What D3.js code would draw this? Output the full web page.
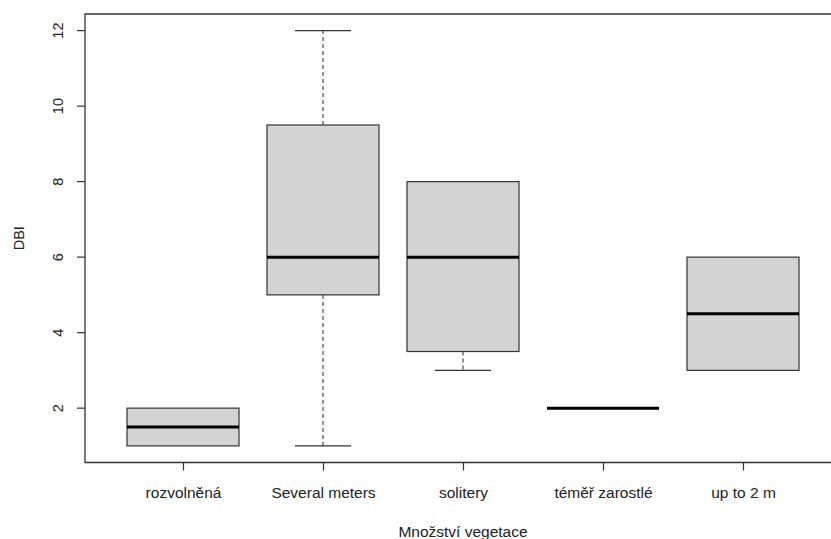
<!DOCTYPE html>
<html>
<head>
<meta charset="utf-8">
<script src="https://cdn.jsdelivr.net/npm/d3@7"></script>
<style>
  body { margin: 0; background: #fff; overflow: hidden; }
  svg { display: block; overflow: hidden; }
  text { font-family: "Liberation Sans", Arial, sans-serif; fill: #222; }
</style>
</head>
<body>
<div id="chart"></div>
<script>
// categories and five-number summaries
let categories = ['rozvolněná', 'Several meters', 'solitery', 'téměř zarostlé', 'up to 2 m'];
let mins = [1, 1, 3, 2, 3];
let q1s = [1, 5, 3.5, 2, 3];
let medians = [1.5, 6, 6, 2, 4.5];
let q3s = [2, 9.5, 8, 2, 6];
let maxs = [2, 12, 8, 2, 6];
let yTicks = [2, 4, 6, 8, 10, 12];

let w = 831;
let h = 539;
let plotL = 85, plotT = 14, plotB = 462.5, plotR = 841;

let svg = d3.select('#chart').
append('svg').
attr('width', w).
attr('height', h);

let boxes = categories.map((c, i) => ({
  name: c, idx: i + 1,
  min: mins[i], q1: q1s[i], med: medians[i], q3: q3s[i], max: maxs[i]
}));

// R style: range padded by 4%
let lo = d3.min(mins), hi = d3.max(maxs);
let yPad = (hi - lo) * 0.04;
let yScale = d3.scaleLinear().
domain([lo - yPad, hi + yPad]).
range([plotB, plotT]);

let n = categories.length;
let xPad = n * 0.04;
let xScale = d3.scaleLinear().
domain([0.5 - xPad, n + 0.5 + xPad]).
range([plotL, plotR]);

let unit = xScale(2) - xScale(1);
let boxW = unit * 0.8;
let capW = boxW * 0.5;

// whiskers
let g = svg.append('g');
g.selectAll('.whisk-up').
data(boxes).
enter().
append('line').
attr('x1', d => xScale(d.idx)).
attr('x2', d => xScale(d.idx)).
attr('y1', d => yScale(d.q3)).
attr('y2', d => yScale(d.max)).
attr('stroke', '#222').
attr('stroke-dasharray', '4,3').
attr('display', d => d.max > d.q3 ? null : 'none');

g.selectAll('.whisk-down').
data(boxes).
enter().
append('line').
attr('x1', d => xScale(d.idx)).
attr('x2', d => xScale(d.idx)).
attr('y1', d => yScale(d.q1)).
attr('y2', d => yScale(d.min)).
attr('stroke', '#222').
attr('stroke-dasharray', '4,3').
attr('display', d => d.min < d.q1 ? null : 'none');

// staples
['min', 'max'].forEach(k => {
  g.selectAll('.cap-' + k).
  data(boxes.filter(d => k == 'min' ? d.min < d.q1 : d.max > d.q3)).
  enter().
  append('line').
  attr('x1', d => xScale(d.idx) - capW / 2).
  attr('x2', d => xScale(d.idx) + capW / 2).
  attr('y1', d => yScale(d[k])).
  attr('y2', d => yScale(d[k])).
  attr('stroke', '#333').
  attr('stroke-width', 1.2);
});

// boxes
g.selectAll('rect').
data(boxes).
enter().
append('rect').
attr('x', d => xScale(d.idx) - boxW / 2).
attr('width', boxW).
attr('y', d => yScale(d.q3)).
attr('height', d => yScale(d.q1) - yScale(d.q3)).
attr('fill', '#d3d3d3').
attr('stroke', '#333').
attr('stroke-width', 1.2);

// medians
g.selectAll('.med').
data(boxes).
enter().
append('line').
attr('x1', d => xScale(d.idx) - boxW / 2).
attr('x2', d => xScale(d.idx) + boxW / 2).
attr('y1', d => yScale(d.med)).
attr('y2', d => yScale(d.med)).
attr('stroke', '#000').
attr('stroke-width', 3);

// frame (right side falls outside the picture)
svg.append('path').
attr('d', 'M' + plotR + ',' + plotT + 'H' + plotL + 'V' + plotB + 'H' + plotR).
attr('fill', 'none').
attr('stroke', '#333').
attr('stroke-width', 1.3);

// Y axis
let yAxis = d3.axisLeft(yScale).tickValues(yTicks).tickSize(8);
let ya = svg.append('g').
attr('transform', 'translate(' + plotL + ',0)').
call(yAxis);
ya.select('.domain').remove();
ya.selectAll('line').attr('stroke', '#333').attr('stroke-width', 1.2);
ya.selectAll('.tick').attr('transform', null);
ya.selectAll('.tick line').attr('y1', d => yScale(d)).attr('y2', d => yScale(d));
ya.selectAll('text').
attr('font-size', 14.5).
attr('fill', '#222').
attr('text-anchor', 'middle').
attr('transform', 'rotate(-90)').
attr('x', d => -yScale(d)).
attr('y', -22).
attr('dy', 0);

// X axis
let xAxis = d3.axisBottom(xScale).tickValues(boxes.map(d => d.idx)).tickFormat((d, i) => categories[i]).tickSize(8).tickPadding(16);
let xa = svg.append('g').
attr('transform', 'translate(0,' + plotB + ')').
call(xAxis);
xa.select('.domain').remove();
xa.selectAll('line').attr('stroke', '#333').attr('stroke-width', 1.2);
xa.selectAll('text').
attr('font-size', 15.5).
attr('fill', '#222');

// titles
svg.append('text').
text('Množství vegetace').
attr('x', (plotL + plotR) / 2).
attr('y', 537).
attr('text-anchor', 'middle').
attr('font-size', 15.5);

svg.append('text').
text('DBI').
attr('transform', 'translate(24,' + (plotT + plotB) / 2 + ') rotate(-90)').
attr('text-anchor', 'middle').
attr('font-size', 14.5);
</script>
</body>
</html>
